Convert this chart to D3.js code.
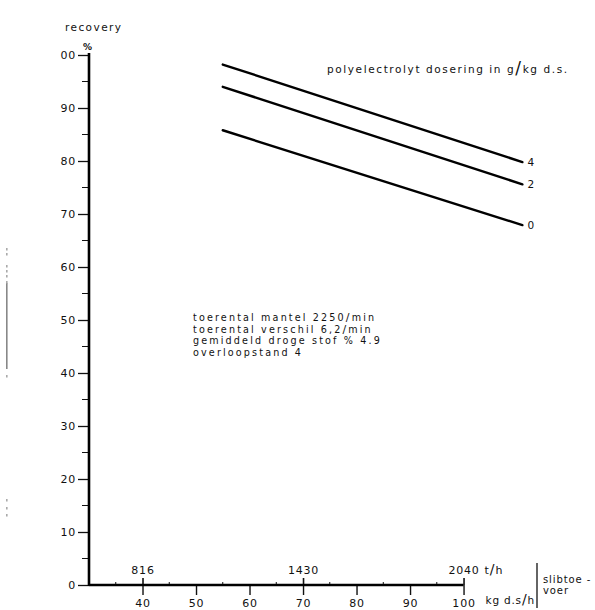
<!DOCTYPE html>
<html>
<head>
<meta charset="utf-8">
<script src="https://cdn.jsdelivr.net/npm/d3@7"></script>
<style>
  html, body { margin: 0; padding: 0; background: #fff; }
  svg { display: block; }
  text { font-family: "DejaVu Sans", sans-serif; fill: #111; }
</style>
</head>
<body>
<div id="chart"></div>
<script>
// ---- data ----
const dosages = ["4", "2", "0"];
const xStart = [55, 55, 55];
const xEnd = [111, 111, 111];
const recoveryStart = [98.2, 94.0, 85.8];
const recoveryEnd = [79.8, 75.6, 67.9];
const yTicks = [0, 10, 20, 30, 40, 50, 60, 70, 80, 90, 100];
const yTickLabels = ["0", "10", "20", "30", "40", "50", "60", "70", "80", "90", "00"];
const yMinor = [5, 15, 25, 35, 45, 55, 65, 75, 85, 95];
const xTicks = [40, 50, 60, 70, 80, 90, 100];
const xTickLabels = ["40", "50", "60", "70", "80", "90", "100"];
const xMinor = [35, 45, 55, 65, 75, 85, 95];
const flowTicks = [40, 70, 100];
const flowLabels = ["816", "1430", "2040"];
const notes = ["toerental mantel 2250/min", "toerental verschil 6,2/min", "gemiddeld droge stof % 4.9", "overloopstand 4"];

const W = 595, H = 610;
const svg = d3.select("#chart").append("svg").attr("width", W).attr("height", H);

const x = d3.scaleLinear().domain([30, 111]).range([89, 522.4]);
const y = d3.scaleLinear().domain([0, 100]).range([585, 55]);

// scan artefacts on left edge
const art = svg.append("g").attr("fill", "#888");
art.append("rect").attr("x", 6).attr("y", 283).attr("width", 1.6).attr("height", 86);
[248, 253, 265, 270, 275, 281, 375, 499, 507, 514].forEach(v =>
  art.append("rect").attr("x", 6).attr("y", v).attr("width", 1.6).attr("height", 2.5).attr("fill", "#aaa"));

// Y axis
const yAxis = d3.axisLeft(y).tickValues(yTicks).tickSize(11).tickPadding(2)
  .tickFormat((d, i) => yTickLabels[i]);
const gy = svg.append("g").attr("transform", `translate(${x(30)},0)`).call(yAxis);
gy.select(".domain").remove();
gy.selectAll(".tick line").attr("stroke", "#111").attr("stroke-width", 1.3);
gy.selectAll(".tick text").attr("font-size", 11).attr("letter-spacing", 0.8).attr("dy", "0.34em");
svg.append("g").selectAll("line").data(yMinor).join("line")
  .attr("x1", x(30) - 7).attr("x2", x(30)).attr("y1", d => y(d)).attr("y2", d => y(d))
  .attr("stroke", "#111").attr("stroke-width", 1);
svg.append("line").attr("x1", x(30)).attr("x2", x(30)).attr("y1", y(0) + 1).attr("y2", y(100) - 2)
  .attr("stroke", "#000").attr("stroke-width", 2.6);

// X axis (kg d.s/h)
const xAxis = d3.axisBottom(x).tickValues(xTicks).tickSize(10).tickPadding(4)
  .tickFormat((d, i) => xTickLabels[i]);
const gx = svg.append("g").attr("transform", `translate(0,${y(0)})`).call(xAxis);
gx.select(".domain").remove();
gx.selectAll(".tick line").attr("stroke", "#111").attr("stroke-width", 1.4);
gx.selectAll(".tick text").attr("font-size", 11).attr("letter-spacing", 0.8);
// upper flow ticks (t/h)
const flowAxis = d3.axisTop(x).tickValues(flowTicks).tickSize(7).tickPadding(4)
  .tickFormat((d, i) => flowLabels[i]);
const gf = svg.append("g").attr("transform", `translate(0,${y(0)})`).call(flowAxis);
gf.select(".domain").remove();
gf.selectAll(".tick line").attr("stroke", "#111").attr("stroke-width", 1.6);
gf.selectAll(".tick text").attr("font-size", 11).attr("letter-spacing", 0.8);
svg.append("g").selectAll("line").data(xMinor).join("line")
  .attr("x1", d => x(d)).attr("x2", d => x(d)).attr("y1", y(0)).attr("y2", y(0) - 3)
  .attr("stroke", "#111").attr("stroke-width", 1);
svg.append("line").attr("x1", x(30)).attr("x2", x(100)).attr("y1", y(0)).attr("y2", y(0))
  .attr("stroke", "#000").attr("stroke-width", 2.6);

// unit labels
const th = svg.append("text").attr("x", x(100) + 21).attr("y", y(0) - 11).attr("font-size", 11).attr("letter-spacing", 1);
th.append("tspan").text("t");
th.append("tspan").attr("font-size", 14).text("/");
th.append("tspan").text("h");
const kg = svg.append("text").attr("x", x(100) + 22).attr("y", y(0) + 19).attr("font-size", 10.5).attr("letter-spacing", 0.8);
kg.append("tspan").text("kg d.s");
kg.append("tspan").attr("font-size", 14).text("/");
kg.append("tspan").text("h");
svg.append("line").attr("x1", 537).attr("x2", 537).attr("y1", 563).attr("y2", 608)
  .attr("stroke", "#111").attr("stroke-width", 1.3);
svg.append("text").attr("x", 543).attr("y", 583).attr("font-size", 10).attr("letter-spacing", 0.9).text("slibtoe -");
svg.append("text").attr("x", 543).attr("y", 594).attr("font-size", 10).attr("letter-spacing", 0.9).text("voer");

// axis title
svg.append("text").attr("x", 65).attr("y", 31).attr("font-size", 10.5)
  .attr("textLength", 56).attr("lengthAdjust", "spacing").text("recovery");
svg.append("text").attr("x", 83).attr("y", 50).attr("font-size", 9).attr("font-weight", "bold").text("%");

// lines
const line = d3.line().x(d => x(d[0])).y(d => y(d[1]));
const series = dosages.map((k, i) => ({ k, pts: [[xStart[i], recoveryStart[i]], [xEnd[i], recoveryEnd[i]]] }));
svg.append("g").selectAll("path").data(series).join("path")
  .attr("d", d => line(d.pts)).attr("fill", "none").attr("stroke", "#000").attr("stroke-width", 2.4)
  .attr("stroke-linecap", "round");
svg.append("g").selectAll("text").data(series).join("text")
  .attr("x", d => x(d.pts[1][0]) + 5).attr("y", d => y(d.pts[1][1]) + 4)
  .attr("font-size", 10.5).text(d => d.k);

// legend title
const lt = svg.append("text").attr("x", 327).attr("y", 73).attr("font-size", 10.5).attr("letter-spacing", 1.6);
lt.append("tspan").text("polyelectrolyt  dosering in g");
lt.append("tspan").attr("font-size", 17).attr("dy", 1).text("/");
lt.append("tspan").attr("dy", -1).text("kg d.s.");

// notes
const noteY = [321, 332.5, 344, 356];
notes.forEach((t, i) => {
  const el = svg.append("text").attr("x", 193).attr("y", noteY[i]).attr("font-size", 9.6).attr("letter-spacing", 2.15);
  const parts = t.split("/");
  el.append("tspan").text(parts[0]);
  if (parts.length > 1) {
    el.append("tspan").attr("font-size", 11).text("/");
    el.append("tspan").text(parts[1]);
  }
});
</script>
</body>
</html>
